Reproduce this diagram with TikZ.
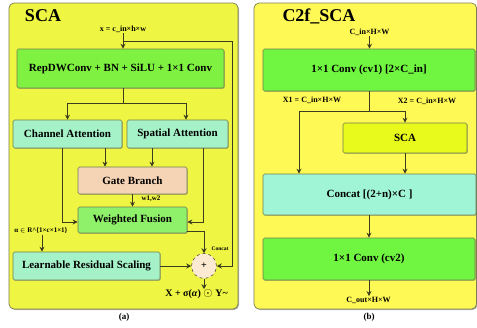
\documentclass[tikz,border=0pt]{standalone}
\usepackage{fontspec}
\setmainfont{Liberation Serif}
\usetikzlibrary{arrows.meta,shadows,calc}
\definecolor{panelA}{HTML}{EEF542}
\definecolor{panelB}{HTML}{FFF955}
\definecolor{panelEdge}{HTML}{7D7D55}
\definecolor{greenA}{HTML}{7FF241}
\definecolor{greenB}{HTML}{70F540}
\definecolor{mintA}{HTML}{A6F2C8}
\definecolor{mintB}{HTML}{A0F5D6}
\definecolor{gateC}{HTML}{F5D3B5}
\definecolor{fuseC}{HTML}{8FF06A}
\definecolor{scaC}{HTML}{E8F91C}
\definecolor{circC}{HTML}{FCEBD2}
\definecolor{lineC}{HTML}{3C3C1E}
\definecolor{boxEdge}{HTML}{6F7F50}
\begin{document}
\begin{tikzpicture}[x=1pt,y=-1pt,
  panel/.style={draw=panelEdge, line width=0.7pt, rounded corners=5pt,
    drop shadow={shadow xshift=1pt,shadow yshift=-1pt,opacity=0.6,fill=black!55}},
  box/.style={draw=boxEdge, line width=0.6pt, rounded corners=1.5pt, align=center,
    inner sep=0pt, font=\bfseries\fontsize{11}{13}\selectfont,
    drop shadow={shadow xshift=0.8pt,shadow yshift=-0.8pt,opacity=0.4,fill=black!60}},
  lbl/.style={inner sep=0.5pt, font=\bfseries\fontsize{8}{9}\selectfont},
  title/.style={inner sep=0pt, font=\bfseries\fontsize{18}{20}\selectfont},
  arr/.style={-{Stealth[length=5pt,width=5pt]}, line width=0.8pt, draw=lineC},
  ln/.style={line width=0.8pt, draw=lineC}]
\useasboundingbox (0,0) rectangle (477,327);

% ---------- panel (a) ----------
\draw[panel, fill=panelA] (9,3) rectangle (238,309);
\node[title] (tA) at (43,16) {SCA};
\node[lbl] (xin) at (123,29) {x = c\_in×h×w};
\node[box, fill=greenA, minimum width=207pt, minimum height=39pt] (rep) at (120.5,68.5) {RepDWConv + BN + SiLU + 1×1 Conv};
\node[box, fill=mintA, minimum width=109pt, minimum height=28pt] (ca) at (67.5,134) {Channel Attention};
\node[box, fill=mintA, minimum width=101pt, minimum height=28pt] (sa) at (177.5,134) {Spatial Attention};
\node[box, fill=gateC, minimum width=109pt, minimum height=27pt] (gate) at (132.5,180.5) {Gate Branch};
\node[box, fill=fuseC, minimum width=109pt, minimum height=26pt] (wf) at (132.5,220) {Weighted Fusion};
\node[box, fill=mintA, minimum width=147pt, minimum height=28pt] (lrs) at (86.5,266) {Learnable Residual Scaling};
\node[draw=lineC, dashed, line width=0.5pt, fill=circC, circle, minimum size=25pt, inner sep=0pt,
      font=\bfseries\fontsize{10}{10}\selectfont] (circ) at (204,266) {+};
\node[inner sep=0pt, font=\bfseries\fontsize{5.5}{6}\selectfont] (cc) at (220,248.5) {Concat};
\node[inner sep=0pt, font=\bfseries\fontsize{7}{8}\selectfont] (wl) at (151,199) {w1,w2};
\node[inner sep=0.5pt, font=\bfseries\fontsize{7}{8}\selectfont] (alpha) at (41,231) {α \ensuremath{\in} R\textasciicircum\{1×c×1×1\}};
\node[inner sep=0.5pt, font=\bfseries\fontsize{10}{11}\selectfont] (out) at (196.5,294.5) {X + σ(\textit{α}) {\fontsize{13}{13}\selectfont\ensuremath{\odot}} Y\textasciitilde};
\node[inner sep=0pt, font=\bfseries\fontsize{9}{10}\selectfont] (capA) at (124,317) {(a)};

\coordinate (fb) at (123,41);
\coordinate (fbr) at (232,41);
\coordinate (split) at (123,103);
\draw[arr] (xin.south) -- (xin.south |- rep.north);
\draw[ln] (fb) -- (fbr);
\draw[arr] (fbr) |- (circ.east);
\draw[ln] (rep.south -| split) -- (split);
\draw[arr] (split) -| (ca.north);
\draw[arr] (split) -| ([xshift=8.5pt]sa.north);
\draw[arr] ([xshift=37.5pt]ca.south) -- ([xshift=37.5pt]ca.south |- gate.north);
\draw[arr] ([xshift=-25.5pt]sa.south) -- ([xshift=-25.5pt]sa.south |- gate.north);
\draw[arr] (gate.south) -- (wf.north);
\draw[arr] ([xshift=-5.5pt]ca.south) |- ([yshift=-2pt]wf.west);
\draw[arr] ([xshift=25.5pt]sa.south) |- ([yshift=-2pt]wf.east);
\draw[arr] ([yshift=-11pt]wf.east) -| (circ.north);
\draw[arr] ([xshift=1pt]alpha.south) -- ([xshift=1pt]alpha.south |- lrs.north);
\draw[arr] (lrs.east) -- (circ.west);
\draw[arr] (circ.south) -- (circ.south |- out.north);

% ---------- panel (b) ----------
\draw[panel, fill=panelB] (254,3) rectangle (476.5,309);
\node[title] (tB) at (319,16) {C2f\_SCA};
\node[lbl] (cin) at (369.5,32) {C\_in×H×W};
\node[box, fill=greenB, minimum width=212pt, minimum height=42pt] (cv1) at (369,70) {1×1 Conv (cv1) [2×C\_in]};
\node[lbl] (x1) at (312,100) {X1 = C\_in×H×W};
\node[lbl] (x2) at (427,101) {X2 = C\_in×H×W};
\node[box, fill=scaC, minimum width=124pt, minimum height=30pt] (sca) at (405,138) {SCA};
\node[box, fill=mintB, minimum width=213pt, minimum height=41pt] (concat) at (369.5,194.5) {Concat [(2+n)×C ]};
\node[box, fill=greenB, minimum width=212pt, minimum height=42pt] (cv2) at (369,259) {1×1 Conv (cv2)};
\node[lbl] (cout) at (368.5,300) {C\_out×H×W};
\node[inner sep=0pt, font=\bfseries\fontsize{9}{10}\selectfont] (capB) at (369,317) {(b)};

\coordinate (split2) at (369,111);
\draw[arr] (cin.south) -- (cin.south |- cv1.north);
\draw[ln] (cv1.south) -- (split2);
\draw[arr] (split2) -| (sca.north);
\draw[arr] (split2) -| ([xshift=-70.5pt]concat.north);
\draw[arr] (sca.south) -- (sca.south |- concat.north);
\draw[arr] (concat.south -| cv1.south) -- (cv2.north);
\draw[arr] (cv2.south) -- (cv2.south |- cout.north);
\end{tikzpicture}
\end{document}
